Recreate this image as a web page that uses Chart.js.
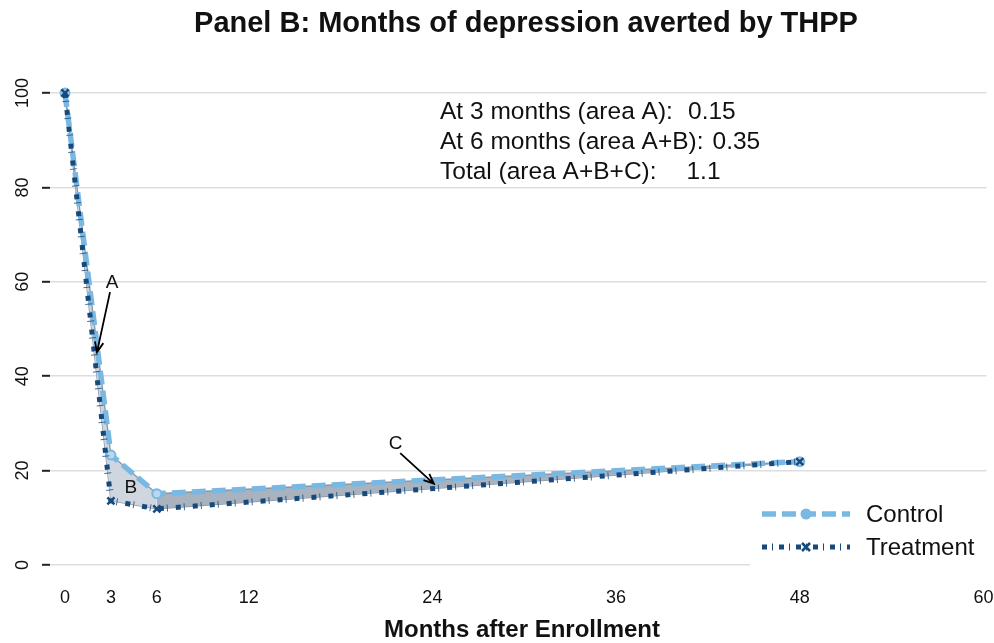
<!DOCTYPE html>
<html>
<head>
<meta charset="utf-8">
<script src="https://cdn.jsdelivr.net/npm/chart.js@4.4.0/dist/chart.umd.min.js"></script>
<style>
  html, body { margin: 0; padding: 0; background: #fff; }
  #wrap { width: 994px; height: 643px; }
</style>
</head>
<body>
<div id="wrap"><canvas id="chart"></canvas></div>
<script>
// Panel B — share depressed over time, control vs treatment

const months = [0, 3, 6, 48];
const controlValues = [100, 23.3, 15.1, 21.9];
const treatmentValues = [100, 13.6, 11.9, 21.9];
const xTicks = [0, 3, 6, 12, 24, 36, 48, 60];
const yTicks = [0, 20, 40, 60, 80, 100];
const seriesNames = ['Control', 'Treatment'];
const titleText = 'Panel B: Months of depression averted by THPP';
const xTitleText = 'Months after Enrollment';
const areaLabels = ['At 3 months (area A):', 'At 6 months (area A+B):', 'Total (area A+B+C):'];
const areaValues = ['0.15', '0.35', '1.1'];

const FONT = "'Liberation Sans', Arial, Helvetica, sans-serif";
const LIGHT = '#7ab8e4';
const NAVY = '#174a7c';
const OUTLINE = '#8794a3';

Chart.defaults.font.family = FONT;

function pts(values, from, to) {
  return months
    .map((m, i) => ({ x: m, y: values[i] }))
    .filter(p => p.x >= from && p.x <= to);
}

function arrow(ctx, x1, y1, x2, y2) {
  const a = Math.atan2(y2 - y1, x2 - x1);
  const h = 11;
  ctx.beginPath();
  ctx.moveTo(x1, y1);
  ctx.lineTo(x2, y2);
  ctx.moveTo(x2 - h * Math.cos(a - 0.4), y2 - h * Math.sin(a - 0.4));
  ctx.lineTo(x2, y2);
  ctx.lineTo(x2 - h * Math.cos(a + 0.4), y2 - h * Math.sin(a + 0.4));
  ctx.stroke();
}

const decorations = {
  id: 'decorations',
  afterDraw(chart) {
    const { ctx, chartArea: area, scales: { x, y } } = chart;
    ctx.save();
    ctx.fillStyle = '#111';

    // title + x axis title
    ctx.textAlign = 'center';
    ctx.textBaseline = 'middle';
    ctx.font = `bold 29px ${FONT}`;
    ctx.fillText(titleText, 526, 24);
    ctx.font = `bold 24px ${FONT}`;
    ctx.fillText(xTitleText, 522, 630);

    // y tick labels, rotated like the original
    ctx.font = `18px ${FONT}`;
    yTicks.forEach(v => {
      ctx.save();
      ctx.translate(23, y.getPixelForValue(v));
      ctx.rotate(-Math.PI / 2);
      ctx.fillText(String(v), 0, 0);
      ctx.restore();
    });

    // area summary text
    ctx.font = `24.5px ${FONT}`;
    ctx.textAlign = 'left';
    const rowY = [96.0, 89.6, 83.3];
    const valX = [40.7, 42.3, 40.6];
    areaLabels.forEach((t, i) => {
      ctx.fillText(t, x.getPixelForValue(24.5), y.getPixelForValue(rowY[i]));
      ctx.fillText(areaValues[i], x.getPixelForValue(valX[i]), y.getPixelForValue(rowY[i]));
    });

    // A / B / C labels with arrows
    ctx.textAlign = 'center';
    ctx.font = `19px ${FONT}`;
    ctx.fillText('A', x.getPixelForValue(3.07), y.getPixelForValue(59.7));
    ctx.fillText('B', x.getPixelForValue(4.3), y.getPixelForValue(16.3));
    ctx.fillText('C', x.getPixelForValue(21.6), y.getPixelForValue(25.6));
    ctx.strokeStyle = '#000';
    ctx.lineWidth = 1.8;
    arrow(ctx, x.getPixelForValue(2.94), y.getPixelForValue(57.8), x.getPixelForValue(2.09), y.getPixelForValue(45.1));
    arrow(ctx, x.getPixelForValue(21.9), y.getPixelForValue(23.7), x.getPixelForValue(24.1), y.getPixelForValue(17.2));

    // legend box
    const lx = 750;
    ctx.fillStyle = '#fff';
    ctx.fillRect(lx, area.bottom - 70, 250, 80);
    const rows = [area.bottom - 51, area.bottom - 18];
    const x0 = lx + 12, x1 = lx + 100, xm = (x0 + x1) / 2;

    ctx.lineWidth = 5.5;
    ctx.strokeStyle = LIGHT;
    ctx.setLineDash([14, 6]);
    ctx.beginPath(); ctx.moveTo(x0, rows[0]); ctx.lineTo(x1, rows[0]); ctx.stroke();
    ctx.setLineDash([]);
    ctx.fillStyle = LIGHT;
    ctx.beginPath(); ctx.arc(xm, rows[0], 5.5, 0, Math.PI * 2); ctx.fill();

    ctx.lineWidth = 5;
    ctx.strokeStyle = NAVY;
    ctx.setLineDash([5, 12]);
    ctx.beginPath(); ctx.moveTo(x0, rows[1]); ctx.lineTo(x1, rows[1]); ctx.stroke();
    ctx.lineWidth = 7;
    ctx.setLineDash([1, 16]);
    ctx.lineDashOffset = -10;
    ctx.beginPath(); ctx.moveTo(x0, rows[1]); ctx.lineTo(x1, rows[1]); ctx.stroke();
    ctx.setLineDash([]);
    ctx.lineWidth = 2.5;
    ctx.beginPath();
    ctx.moveTo(xm - 4, rows[1] - 4); ctx.lineTo(xm + 4, rows[1] + 4);
    ctx.moveTo(xm + 4, rows[1] - 4); ctx.lineTo(xm - 4, rows[1] + 4);
    ctx.stroke();

    ctx.fillStyle = '#111';
    ctx.textAlign = 'left';
    ctx.font = `24px ${FONT}`;
    seriesNames.forEach((n, i) => ctx.fillText(n, lx + 116, rows[i] + 1));
    ctx.restore();
  }
};

new Chart(document.getElementById('chart'), {
  type: 'line',
  data: {
    datasets: [
      {
        label: 'treatment-ticks',
        data: pts(treatmentValues, 0, 48),
        borderColor: 'rgba(23,74,124,0.8)',
        borderWidth: 7,
        borderDash: [1, 16],
        borderDashOffset: -8,
        pointRadius: 0,
        fill: false,
      },
      {
        label: seriesNames[1],
        data: pts(treatmentValues, 0, 48),
        borderColor: NAVY,
        borderWidth: 5,
        borderDash: [5, 12],
        pointStyle: 'crossRot',
        pointRadius: 5,
        pointBorderWidth: 2.5,
        pointBorderColor: NAVY,
        pointBackgroundColor: NAVY,
        fill: false,
      },
      {
        label: seriesNames[0],
        data: pts(controlValues, 0, 48),
        borderColor: LIGHT,
        borderWidth: 5.5,
        borderDash: [14, 6],
        pointStyle: 'circle',
        pointRadius: 4.5,
        pointBorderWidth: 2,
        pointBorderColor: LIGHT,
        pointBackgroundColor: '#b9d8ef',
        fill: false,
      },
      {
        label: 'control-AB',
        data: pts(controlValues, 0, 6),
        borderColor: OUTLINE,
        borderWidth: 1.3,
        pointRadius: 0,
        backgroundColor: '#cfd6df',
        fill: { target: 4 },
      },
      {
        label: 'treatment-AB',
        data: pts(treatmentValues, 0, 6),
        borderColor: OUTLINE,
        borderWidth: 1.3,
        pointRadius: 0,
        fill: false,
      },
      {
        label: 'control-C',
        data: pts(controlValues, 6, 48),
        borderColor: OUTLINE,
        borderWidth: 1.3,
        pointRadius: 0,
        backgroundColor: '#a9b3bf',
        fill: { target: 6 },
      },
      {
        label: 'treatment-C',
        data: pts(treatmentValues, 6, 48),
        borderColor: OUTLINE,
        borderWidth: 1.3,
        pointRadius: 0,
        fill: false,
      },
    ],
  },
  options: {
    responsive: true,
    maintainAspectRatio: false,
    animation: false,
    layout: { padding: { top: 93, right: 0, left: 0, bottom: 0 } },
    datasets: { line: { clip: false, tension: 0 } },
    scales: {
      x: {
        type: 'linear',
        min: -0.98,
        max: 60.2,
        afterBuildTicks: s => { s.ticks = xTicks.map(v => ({ value: v })); },
        afterFit: s => { s.height = 78; s.paddingLeft = 0; s.paddingRight = 0; },
        grid: { display: false },
        border: { display: false },
        ticks: { color: '#111', font: { size: 18 }, padding: 14, autoSkip: false, maxRotation: 0 },
      },
      y: {
        min: 0,
        max: 100,
        afterBuildTicks: s => { s.ticks = yTicks.map(v => ({ value: v })); },
        afterFit: s => { s.width = 50; s.paddingTop = 0; s.paddingBottom = 0; },
        grid: { color: '#dedede', lineWidth: 1.6, tickLength: 8, tickColor: '#222', tickWidth: 2 },
        border: { display: false },
        ticks: { display: false },
      },
    },
    plugins: {
      legend: { display: false },
      title: { display: false },
      tooltip: { enabled: false },
    },
  },
  plugins: [decorations],
});
</script>
</body>
</html>
